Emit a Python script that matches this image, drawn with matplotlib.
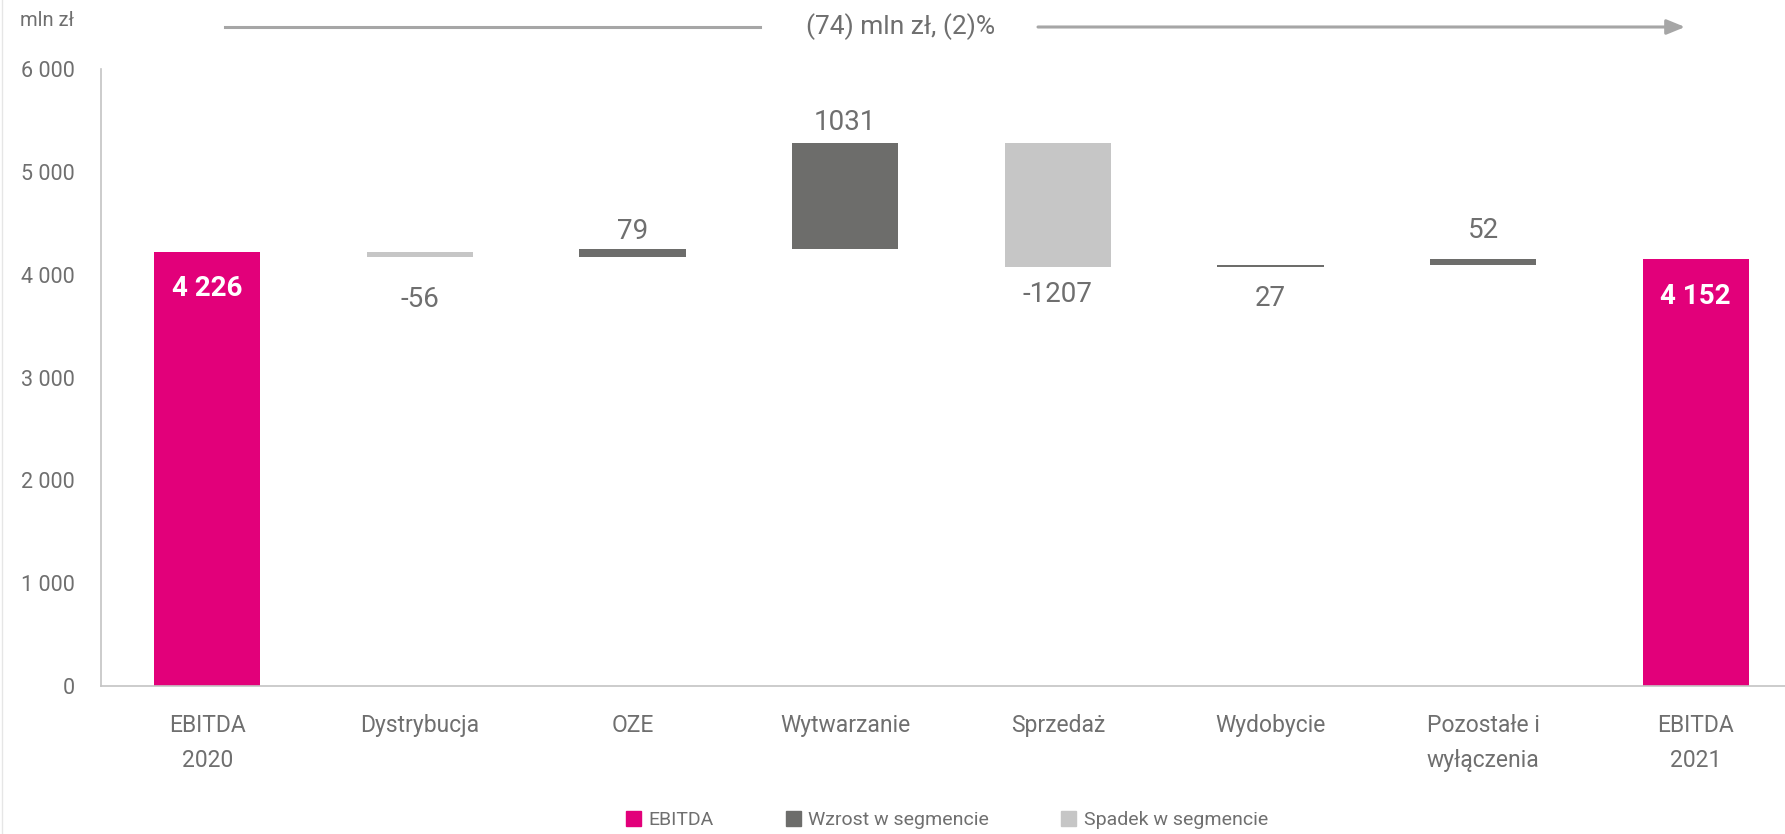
import matplotlib
matplotlib.use("Agg")
import matplotlib.pyplot as plt
from matplotlib.patches import Patch, FancyArrowPatch
from matplotlib.lines import Line2D
from matplotlib.ticker import FuncFormatter, MultipleLocator

plt.rcParams["font.family"] = ["Roboto", "DejaVu Sans"]

# --- data -------------------------------------------------------------
categories = ["EBITDA\n2020", "Dystrybucja", "OZE", "Wytwarzanie", "Sprzedaż",
              "Wydobycie", "Pozostałe i\nwyłączenia", "EBITDA\n2021"]
ebitda_start = 4226
segment_changes = [-56, 79, 1031, -1207, 27, 52]
ebitda_end = 4152
change_caption = "(74) mln zł, (2)%"
unit_label = "mln zł"
legend_labels = ["EBITDA", "Wzrost w segmencie", "Spadek w segmencie"]

# --- style ------------------------------------------------------------
PINK = "#E2007A"
DARK = "#6D6D6B"
LIGHT = "#C6C6C6"
TEXT = "#6F6F6F"
AXIS = "#C4C4C4"
ARROW = "#A6A6A6"
# vertical placement of the change labels (pixels from the bar edge)
label_offset_px = [-42, 18, 21, -27, -31, 29]

W, H, DPI = 1785, 834, 100
fig = plt.figure(figsize=(W / DPI, H / DPI), dpi=DPI)
ax = fig.add_axes([101 / W, (H - 686) / H, 1 - 101 / W, (686 - 69.4) / H])

# --- bars -------------------------------------------------------------
width = 0.5
ax.bar(0, ebitda_start, width=width, color=PINK)
ax.bar(len(categories) - 1, ebitda_end, width=width, color=PINK)

level = ebitda_start
for i, d in enumerate(segment_changes, start=1):
    new = level + d
    lo, hi = min(level, new), max(level, new)
    ax.bar(i, hi - lo, bottom=lo, width=width, color=DARK if d > 0 else LIGHT)
    off = label_offset_px[i - 1]
    anchor = hi if off > 0 else lo
    ax.annotate(f"{d}", xy=(i, anchor), xytext=(0, off * 72 / DPI),
                textcoords="offset points", ha="center", va="center",
                fontsize=20, color=TEXT)
    level = new


def pl_thousands(v):
    return f"{int(round(v)):,}".replace(",", " ")


for x, v in [(0, ebitda_start), (len(categories) - 1, ebitda_end)]:
    ax.annotate(pl_thousands(v), xy=(x, v), xytext=(0, -37 * 72 / DPI),
                textcoords="offset points", ha="center", va="center",
                fontsize=20, fontweight="bold", color="white")

# --- axes -------------------------------------------------------------
ax.set_xlim(-0.5, 7.42)
ax.set_ylim(0, 6000)
ax.yaxis.set_major_locator(MultipleLocator(1000))
ax.yaxis.set_major_formatter(FuncFormatter(lambda v, p: pl_thousands(v)))
ax.set_xticks(range(len(categories)))
ax.set_xticklabels(categories, linespacing=1.68)
ax.tick_params(axis="x", length=0, pad=20, labelsize=16.5, labelcolor=TEXT)
ax.tick_params(axis="y", length=0, pad=19, labelsize=15.5, labelcolor=TEXT)
for s in ["top", "right"]:
    ax.spines[s].set_visible(False)
for s in ["left", "bottom"]:
    ax.spines[s].set_color(AXIS)
    ax.spines[s].set_linewidth(1.2)

fig.text(20 / W, 1 - 21 / H, unit_label, ha="left", va="center",
         fontsize=14.5, color=TEXT)

# --- overall change arrow ---------------------------------------------
ya = H - 27
fig.add_artist(Line2D([225 / W, 760 / W], [ya / H, ya / H], color=ARROW, lw=2.2))
fig.add_artist(FancyArrowPatch((1038, ya), (1685, ya), transform=None,
                               arrowstyle="-|>,head_length=1.1,head_width=0.45",
                               mutation_scale=10, color=ARROW, lw=2.2,
                               shrinkA=0, shrinkB=0))
fig.text(901 / W, ya / H, change_caption, ha="center", va="center",
         fontsize=19, color=TEXT)

# faint frame line on the left edge
fig.add_artist(Line2D([1.5 / W, 1.5 / W], [0, 1], color="#E6E6E6", lw=1))

# --- legend -----------------------------------------------------------
handles = [Patch(color=c) for c in (PINK, DARK, LIGHT)]
fig.legend(handles, legend_labels, loc="center", bbox_to_anchor=(0.5305, 14 / H),
           ncol=3, frameon=False, fontsize=14, labelcolor=TEXT,
           handlelength=0.78, handleheight=0.78, handletextpad=0.4,
           columnspacing=3.68)

fig.savefig("out.png", dpi=DPI)
